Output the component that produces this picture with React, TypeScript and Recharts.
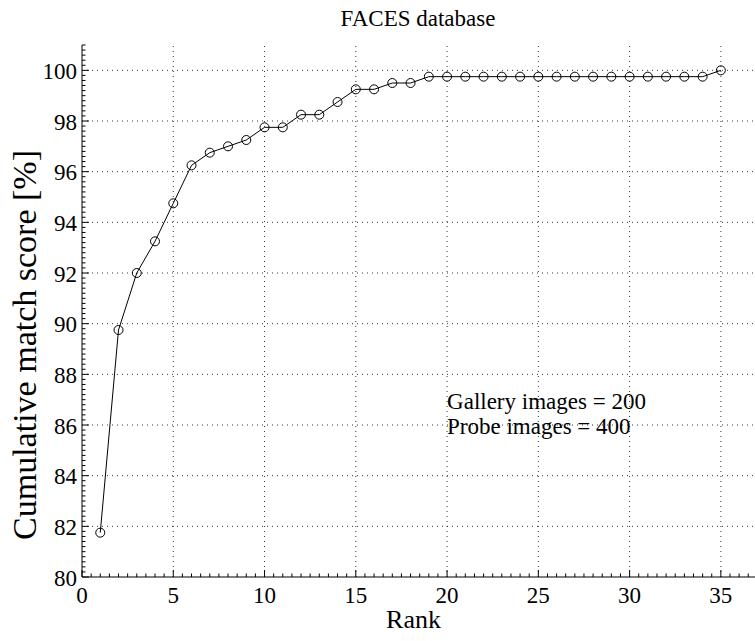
import React from 'react';
import { LineChart, Line, XAxis, YAxis, ReferenceLine, ReferenceDot } from 'recharts';

const ranks = [1, 2, 3, 4, 5, 6, 7, 8, 9, 10, 11, 12, 13, 14, 15, 16, 17, 18, 19, 20, 21, 22, 23, 24, 25, 26, 27, 28, 29, 30, 31, 32, 33, 34, 35];
const scores = [81.75, 89.75, 92.0, 93.25, 94.75, 96.25, 96.75, 97.0, 97.25, 97.75, 97.75, 98.25, 98.25, 98.75, 99.25, 99.25, 99.5, 99.5,
  99.75, 99.75, 99.75, 99.75, 99.75, 99.75, 99.75, 99.75, 99.75, 99.75, 99.75, 99.75, 99.75, 99.75, 99.75, 99.75, 100.0];

const xMajorTicks = [0, 5, 10, 15, 20, 25, 30, 35];
const yMajorTicks = [80, 82, 84, 86, 88, 90, 92, 94, 96, 98, 100];
const xDomain = [0, 36.87];
const yDomain = [80, 101];
const xMinorStep = 0.5;
const yMinorStep = 0.2;

const titleText = 'FACES database';
const xLabelText = 'Rank';
const yLabelText = 'Cumulative match score [%]';
const noteLines = ['Gallery images = 200', 'Probe images = 400'];
const notePos = { x: 20, y: 86.65 };

const data = ranks.map((r, i) => ({ rank: r, score: scores[i] }));

const buildTicks = (lo: number, hi: number, step: number) => {
  const out: number[] = [];
  const n = Math.floor((hi - lo) / step + 1e-6);
  for (let i = 0; i <= n; i++) out.push(Math.round((lo + i * step) * 1000) / 1000);
  return out;
};
const xTicks = buildTicks(xDomain[0], xDomain[1], xMinorStep);
const yTicks = buildTicks(yDomain[0], yDomain[1], yMinorStep);

const isIn = (v: number, arr: number[]) => arr.some((a) => Math.abs(a - v) < 1e-6);

const FONT = '"Liberation Serif", "Times New Roman", serif';

const YTick = (props: any) => {
  const { x, y, payload } = props;
  const v = payload.value;
  const major = isIn(v, yMajorTicks);
  return (
    <g>
      <line x1={x} y1={y} x2={x + (major ? 7 : 3.5)} y2={y} stroke="#000" strokeWidth={1} />
      {major && (
        <text x={x - 5} y={y + 8.5} textAnchor="end" fontFamily={FONT} fontSize={23} fill="#000">
          {v}
        </text>
      )}
    </g>
  );
};

const XTick = (props: any) => {
  const { x, y, payload } = props;
  const v = payload.value;
  const major = isIn(v, xMajorTicks);
  return (
    <g>
      <line x1={x} y1={y} x2={x} y2={y - (major ? 7 : 3.5)} stroke="#000" strokeWidth={1} />
      {major && (
        <text x={x} y={y + 26} textAnchor="middle" fontFamily={FONT} fontSize={23} fill="#000">
          {v}
        </text>
      )}
    </g>
  );
};

const Dot = (props: any) => {
  const { cx, cy, index } = props;
  return <circle key={index} cx={cx} cy={cy} r={4.5} fill="none" stroke="#000" strokeWidth={1} />;
};

export default function App() {
  return (
    <div style={{ position: 'absolute', left: 0, top: 0, width: 755, height: 641, background: '#fff' }}>
      <div
        style={{
          position: 'absolute',
          left: 218,
          width: 400,
          top: 7,
          textAlign: 'center',
          fontFamily: FONT,
          fontSize: 23,
          lineHeight: '23px',
          color: '#000',
        }}
      >
        {titleText}
      </div>
      <LineChart width={755} height={641} data={data} margin={{ top: 45, right: 0, bottom: 0, left: 0 }}>
        <XAxis
          dataKey="rank"
          type="number"
          domain={xDomain}
          ticks={xTicks}
          interval={0}
          height={64}
          tickSize={0}
          tickMargin={0}
          tick={<XTick />}
          axisLine={{ stroke: '#000', strokeWidth: 1 }}
          allowDataOverflow
          label={{
            content: (p: any) => {
              const vb = p.viewBox;
              return (
                <text x={vb.x + vb.width / 2 - 5} y={vb.y + 51} textAnchor="middle" fontFamily={FONT} fontSize={26} fill="#000">
                  {xLabelText}
                </text>
              );
            },
          }}
        />
        <YAxis
          type="number"
          domain={yDomain}
          ticks={yTicks}
          interval={0}
          width={82}
          tickSize={0}
          tickMargin={0}
          tick={<YTick />}
          axisLine={{ stroke: '#000', strokeWidth: 1 }}
          allowDataOverflow
          label={{
            content: (p: any) => {
              const vb = p.viewBox;
              const cx = vb.x + 36;
              const cy = vb.y + vb.height / 2 + 34;
              return (
                <text
                  x={cx}
                  y={cy}
                  transform={`rotate(-90 ${cx} ${cy})`}
                  textAnchor="middle"
                  fontFamily={FONT}
                  fontSize={34}
                  fill="#000"
                >
                  {yLabelText}
                </text>
              );
            },
          }}
        />
        {yMajorTicks.slice(1).map((v) => (
          <ReferenceLine key={'gy' + v} y={v} stroke="#333" strokeWidth={1} strokeDasharray="1 4" ifOverflow="visible" />
        ))}
        {xMajorTicks.slice(1).map((v) => (
          <ReferenceLine key={'gx' + v} x={v} stroke="#333" strokeWidth={1} strokeDasharray="1 4" ifOverflow="visible" />
        ))}
        <ReferenceDot
          x={notePos.x}
          y={notePos.y}
          r={1}
          fill="none"
          stroke="none"
          label={{
            content: (p: any) => {
              const vb = p.viewBox;
              const x0 = vb.x + vb.width / 2;
              const y0 = vb.y + vb.height / 2;
              return (
                <text x={x0} y={y0} fontFamily={FONT} fontSize={23} fill="#000">
                  {noteLines.map((t, i) => (
                    <tspan key={i} x={x0} dy={i === 0 ? 0 : 25}>
                      {t}
                    </tspan>
                  ))}
                </text>
              );
            },
          }}
        />
        <Line
          type="linear"
          dataKey="score"
          stroke="#000"
          strokeWidth={1}
          dot={<Dot />}
          activeDot={false}
          isAnimationActive={false}
        />
      </LineChart>
    </div>
  );
}
